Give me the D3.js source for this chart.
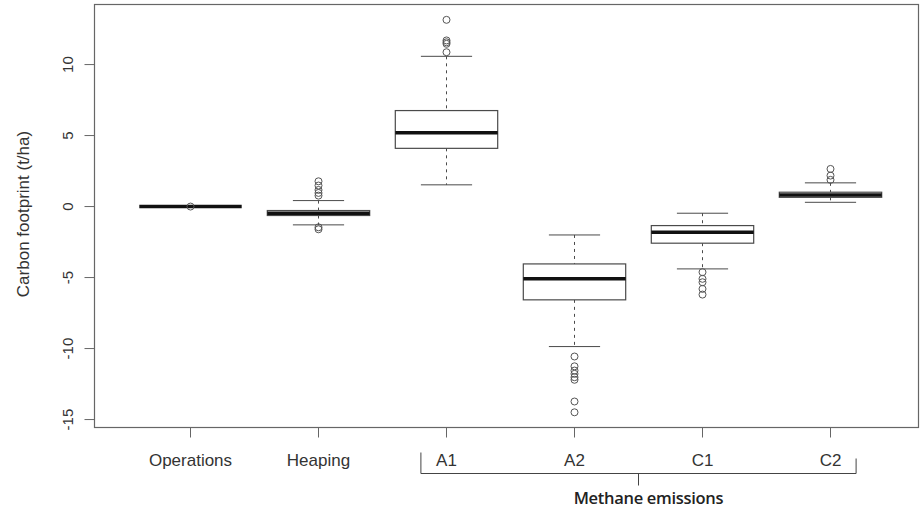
<!DOCTYPE html>
<html>
<head>
<meta charset="utf-8">
<script src="https://cdn.jsdelivr.net/npm/d3@7"></script>
<style>
  body { margin: 0; background: #fff; }
  svg { display: block; }
</style>
</head>
<body>
<script>
// box statistics (t/ha)
const categories = ['Operations', 'Heaping', 'A1', 'A2', 'C1', 'C2'];
const whiskerLow = [0, -1.29, 1.53, -9.86, -4.39, 0.30];
const q1 = [0, -0.63, 4.10, -6.57, -2.58, 0.65];
const medians = [0, -0.47, 5.19, -5.09, -1.81, 0.82];
const q3 = [0, -0.28, 6.76, -4.04, -1.34, 1.01];
const whiskerHigh = [0, 0.42, 10.58, -2.00, -0.47, 1.67];
const outliers = [
  [0],
  [1.78, 1.48, 1.17, 0.96, 0.77, -1.46, -1.60],
  [13.15, 11.70, 11.57, 11.46, 10.87],
  [-10.56, -11.25, -11.55, -11.78, -12.02, -12.20, -13.73, -14.49],
  [-4.62, -5.09, -5.33, -5.80, -6.20],
  [2.65, 2.18, 1.88]
];
const yTicks = [-15, -10, -5, 0, 5, 10];
const yTitle = 'Carbon footprint (t/ha)';
const groupLabel = 'Methane emissions';
const groupFrom = 'A1', groupTo = 'C2';

const width = 920, height = 509;
const margin = { top: 4, right: 2, bottom: 82, left: 94 };
const w = width - margin.left - margin.right;
const h = height - margin.top - margin.bottom;

const boxes = categories.map((c, i) => ({
  name: c, pos: i + 1,
  lo: whiskerLow[i], q1: q1[i], med: medians[i], q3: q3[i], hi: whiskerHigh[i],
  out: outliers[i]
}));

const svg = d3.select('body').append('svg')
    .attr('width', width)
    .attr('height', height);

const g = svg.append('g')
    .attr('transform', `translate(${margin.left + 0.5}, ${margin.top + 0.5})`);

const x = d3.scaleLinear().domain([0.25, 6.6875]).range([0, w]);
const y = d3.scaleLinear().domain([-15.56, 14.23]).range([h, 0]);

const boxW = x(1.4) - x(1);   // half of 0.8 box width
const stapleW = x(1.2) - x(1);

const textColor = '#333';
const lineColor = '#4a4a4a';

// frame
g.append('rect')
    .attr('width', w)
    .attr('height', h)
    .attr('fill', 'none')
    .attr('stroke', '#666')
    .attr('stroke-width', 1.2);

// y axis
const yAxis = g.append('g');
yAxis.selectAll('line')
    .data(yTicks)
    .enter()
    .append('line')
    .attr('x1', -10)
    .attr('x2', 0)
    .attr('y1', d => y(d))
    .attr('y2', d => y(d))
    .attr('stroke', '#666');
yAxis.selectAll('text')
    .data(yTicks)
    .enter()
    .append('text')
    .attr('transform', d => `translate(-22, ${y(d)}) rotate(-90)`)
    .attr('text-anchor', 'middle')
    .style('font-family', 'Liberation Sans, Arial, sans-serif')
    .style('font-size', '15px')
    .style('fill', textColor)
    .text(d => d);

svg.append('text')
    .attr('transform', `translate(29, 214) rotate(-90)`)
    .attr('text-anchor', 'middle')
    .style('font-family', 'Liberation Sans, Arial, sans-serif')
    .style('font-size', '17px')
    .style('fill', textColor)
    .text(yTitle);

// x axis ticks + labels
const xAxis = g.append('g').attr('transform', `translate(0, ${h})`);
xAxis.selectAll('line')
    .data(boxes)
    .enter()
    .append('line')
    .attr('x1', d => x(d.pos))
    .attr('x2', d => x(d.pos))
    .attr('y1', 0)
    .attr('y2', 10)
    .attr('stroke', '#666');
xAxis.selectAll('text')
    .data(boxes)
    .enter()
    .append('text')
    .attr('x', d => x(d.pos))
    .attr('y', 38)
    .attr('text-anchor', 'middle')
    .style('font-family', 'Liberation Sans, Arial, sans-serif')
    .style('font-size', '17px')
    .style('fill', textColor)
    .text(d => d.name);

// boxes
const box = g.selectAll('.box')
    .data(boxes)
    .enter()
    .append('g')
    .attr('class', 'box');

// dashed whiskers
box.append('line')
    .attr('x1', d => x(d.pos)).attr('x2', d => x(d.pos))
    .attr('y1', d => y(d.hi)).attr('y2', d => y(d.q3))
    .attr('stroke', lineColor)
    .attr('stroke-dasharray', '3,4');
box.append('line')
    .attr('x1', d => x(d.pos)).attr('x2', d => x(d.pos))
    .attr('y1', d => y(d.q1)).attr('y2', d => y(d.lo))
    .attr('stroke', lineColor)
    .attr('stroke-dasharray', '3,4');

// staples
['hi', 'lo'].forEach(k => {
  box.append('line')
      .attr('x1', d => x(d.pos) - stapleW)
      .attr('x2', d => x(d.pos) + stapleW)
      .attr('y1', d => y(d[k]))
      .attr('y2', d => y(d[k]))
      .attr('stroke', lineColor);
});

box.append('rect')
    .attr('x', d => x(d.pos) - boxW)
    .attr('width', boxW * 2)
    .attr('y', d => y(d.q3))
    .attr('height', d => y(d.q1) - y(d.q3))
    .attr('fill', 'white')
    .attr('stroke', lineColor)
    .attr('stroke-width', 1.2);

box.append('line')
    .attr('x1', d => x(d.pos) - boxW)
    .attr('x2', d => x(d.pos) + boxW)
    .attr('y1', d => y(d.med))
    .attr('y2', d => y(d.med))
    .attr('stroke', '#111')
    .attr('stroke-width', 3.5);

box.selectAll('circle')
    .data(d => d.out.map(v => ({ pos: d.pos, v: v })))
    .enter()
    .append('circle')
    .attr('cx', d => x(d.pos))
    .attr('cy', d => y(d.v))
    .attr('r', 3.5)
    .attr('fill', 'none')
    .attr('stroke', '#555')
    .attr('stroke-width', 1);

// bracket under the methane groups
const bx0 = x(categories.indexOf(groupFrom) + 1 - 0.2);
const bx1 = x(categories.indexOf(groupTo) + 1 + 0.2);
const bmid = (bx0 + bx1) / 2;
const by = h + 46;
const bracket = g.append('g')
    .attr('stroke', '#444')
    .attr('fill', 'none');
bracket.append('path')
    .attr('d', `M${bx0},${by - 21}V${by}H${bx1}V${by - 15}`);
bracket.append('line')
    .attr('x1', bmid).attr('x2', bmid)
    .attr('y1', by).attr('y2', by + 12);

g.append('text')
    .attr('x', bmid + 10)
    .attr('y', by + 30)
    .attr('text-anchor', 'middle')
    .style('font-family', 'Open Sans, sans-serif')
    .style('font-size', '16.5px')
    .style('font-weight', 600)
    .style('letter-spacing', '-0.3px')
    .style('fill', '#222')
    .text(groupLabel);
</script>
</body>
</html>
